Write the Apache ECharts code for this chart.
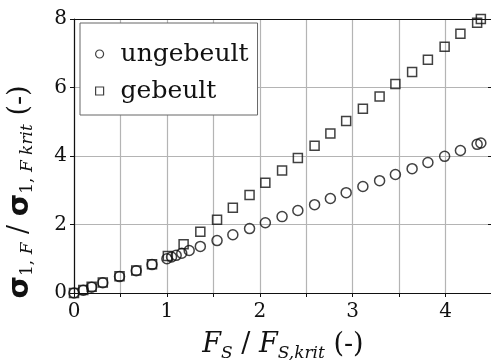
<!DOCTYPE html>
<html>
<head>
<meta charset="utf-8">
<script src="https://cdn.jsdelivr.net/npm/echarts@6.0.0/dist/echarts.min.js"></script>
<style>
  html, body { margin: 0; padding: 0; background: #fff; }
  #chart { width: 491px; height: 360px; }
</style>
</head>
<body>
<div id="chart"></div>
<script>
// Normalised stress vs. normalised load, unbuckled and buckled panels
const seriesNames = ['ungebeult', 'gebeult'];

const ungebeultX = [0, 0.10, 0.19, 0.31, 0.49, 0.67, 0.84, 1.00, 1.05, 1.10, 1.16, 1.24, 1.36, 1.54, 1.71, 1.89, 2.06, 2.24, 2.41, 2.59, 2.76, 2.93, 3.11, 3.29, 3.46, 3.64, 3.81, 3.99, 4.16, 4.34, 4.38];
const ungebeultY = [0, 0.08, 0.17, 0.30, 0.48, 0.65, 0.83, 1.00, 1.05, 1.10, 1.16, 1.24, 1.36, 1.53, 1.70, 1.88, 2.05, 2.23, 2.41, 2.58, 2.76, 2.93, 3.11, 3.28, 3.46, 3.63, 3.81, 3.99, 4.16, 4.34, 4.38];

const gebeultX = [0, 0.10, 0.19, 0.31, 0.49, 0.67, 0.84, 1.01, 1.18, 1.36, 1.54, 1.71, 1.89, 2.06, 2.24, 2.41, 2.59, 2.76, 2.93, 3.11, 3.29, 3.46, 3.64, 3.81, 3.99, 4.16, 4.34, 4.38];
const gebeultY = [0, 0.09, 0.18, 0.31, 0.49, 0.66, 0.84, 1.08, 1.42, 1.79, 2.14, 2.49, 2.86, 3.22, 3.58, 3.94, 4.30, 4.66, 5.02, 5.38, 5.74, 6.10, 6.45, 6.81, 7.19, 7.57, 7.89, 8.00];

const xTickLabels = ['0', '1', '2', '3', '4'];
const yTickLabels = ['0', '2', '4', '6', '8'];

const pairs = (xs, ys) => xs.map((x, i) => [x, ys[i]]);

const ink = '#111';
const gridGray = '#b4b4b4';
const serif = 'DejaVu Serif';

// rich-text styles for axis names with subscripts
const xNameRich = {
  m: { fontFamily: serif, fontStyle: 'italic', fontSize: 27, lineHeight: 30, verticalAlign: 'top', color: ink },
  n: { fontFamily: serif, fontSize: 27, lineHeight: 30, verticalAlign: 'top', color: ink },
  s: { fontFamily: serif, fontStyle: 'italic', fontSize: 17, lineHeight: 18, padding: [18, 0, 0, 0], verticalAlign: 'bottom', color: ink }
};
const yNameRich = {
  sg: { fontFamily: 'DejaVu Sans', fontWeight: 'bold', fontSize: 29, lineHeight: 30, verticalAlign: 'top', color: ink },
  n: { fontFamily: serif, fontSize: 27, lineHeight: 30, verticalAlign: 'top', color: ink },
  s: { fontFamily: serif, fontStyle: 'italic', fontSize: 17, lineHeight: 18, padding: [20, 0, 0, 0], verticalAlign: 'bottom', color: ink },
  su: { fontFamily: serif, fontSize: 17, lineHeight: 18, padding: [20, 0, 0, 0], verticalAlign: 'bottom', color: ink }
};

const chart = echarts.init(document.getElementById('chart'), null, { renderer: 'canvas' });

chart.setOption({
  animation: false,
  backgroundColor: '#fff',
  grid: { left: 74, top: 19, width: 418, height: 274, containLabel: false, outerBoundsMode: 'none' },
  legend: {
    left: 80, top: 23,
    orient: 'vertical',
    padding: [17, 9, 10, 15],
    itemGap: 9,
    itemWidth: 8, itemHeight: 8,
    backgroundColor: '#fff',
    borderColor: '#666',
    borderWidth: 1,
    borderRadius: 0,
    textStyle: { fontFamily: serif, fontSize: 25, lineHeight: 28, color: ink, padding: [0, 0, 0, 12] },
    data: [
      { name: seriesNames[0], icon: 'circle', itemStyle: { color: '#fff', borderColor: ink, borderWidth: 1.2 } },
      { name: seriesNames[1], icon: 'rect', itemStyle: { color: '#fff', borderColor: ink, borderWidth: 1.2 } }
    ]
  },
  xAxis: [{
    type: 'value', min: 0, max: 4.5, interval: 0.5,
    axisLine: { show: true, onZero: false, lineStyle: { color: ink, width: 1.2 } },
    axisTick: { show: true, inside: false, length: 4, lineStyle: { color: ink } },
    axisLabel: {
      margin: 9, fontFamily: serif, fontSize: 20, color: ink,
      formatter: v => (Number.isInteger(v) ? xTickLabels[v] : '')
    },
    splitLine: { show: true, lineStyle: { color: gridGray, width: 1.2 } },
    name: '{m|F}{s|S}{n| / }{m|F}{s|S,krit}{n| (-)}',
    nameLocation: 'middle', nameGap: 31,
    nameTextStyle: { rich: xNameRich }
  }, {
    type: 'value', position: 'top', min: 0, max: 4.5, interval: 0.5,
    axisLine: { show: true, onZero: false, lineStyle: { color: ink, width: 1.2 } },
    axisTick: { show: false }, axisLabel: { show: false }, splitLine: { show: false }
  }],
  yAxis: [{
    type: 'value', min: 0, max: 8, interval: 2,
    axisLine: { show: true, onZero: false, lineStyle: { color: ink, width: 1.2 } },
    axisTick: { show: true, inside: false, length: 4, lineStyle: { color: ink } },
    axisLabel: {
      margin: 7, fontFamily: serif, fontSize: 20, color: ink,
      formatter: v => yTickLabels[v / 2]
    },
    splitLine: { show: true, lineStyle: { color: gridGray, width: 1.2 } },
    name: '{sg|σ}{su|1, }{s|F}{n| / }{sg|σ}{su|1, }{s|F krit}{n| (-)}',
    nameLocation: 'middle', nameRotate: 90, nameGap: 38,
    nameTextStyle: { rich: yNameRich, padding: [0, 72, 0, 0] }
  }, {
    type: 'value', position: 'right', min: 0, max: 8, interval: 2,
    axisLine: { show: true, onZero: false, lineStyle: { color: ink, width: 1.2 } },
    axisTick: { show: true, inside: true, length: 4, lineStyle: { color: ink } },
    axisLabel: { show: false }, splitLine: { show: false }
  }],
  series: [{
    name: seriesNames[0], type: 'scatter', symbol: 'circle', symbolSize: 10,
    itemStyle: { color: 'rgba(255,255,255,0)', borderColor: ink, borderWidth: 1.5 },
    data: pairs(ungebeultX, ungebeultY)
  }, {
    name: seriesNames[1], type: 'scatter', symbol: 'rect', symbolSize: 9,
    itemStyle: { color: 'rgba(255,255,255,0)', borderColor: ink, borderWidth: 1.5 },
    data: pairs(gebeultX, gebeultY)
  }]
});
</script>
</body>
</html>
